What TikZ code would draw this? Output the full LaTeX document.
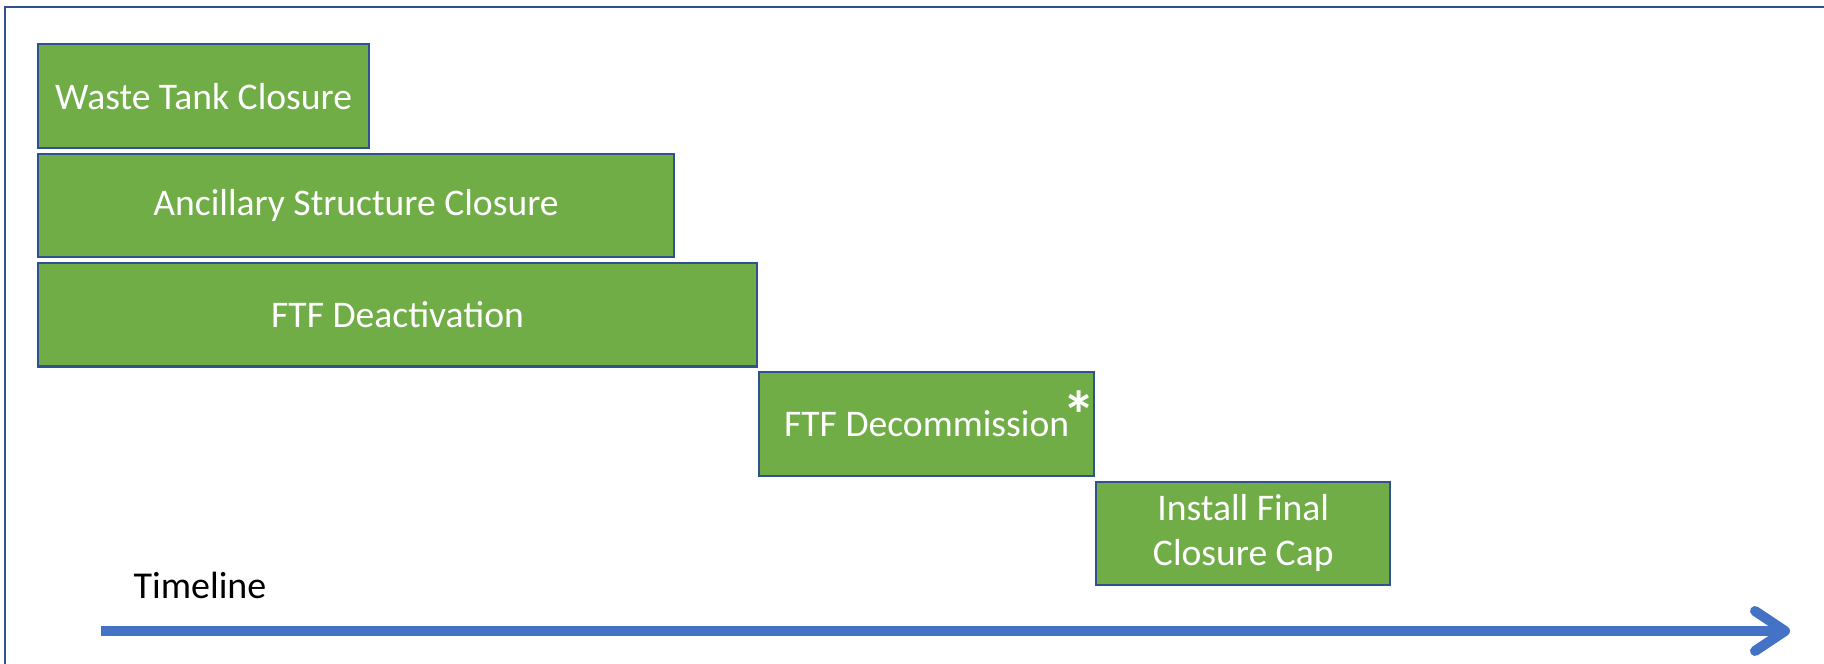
\documentclass[tikz,border=0pt]{standalone}
\usepackage{fontspec}
\setmainfont{Carlito}
\usepackage{tikz}
\usetikzlibrary{positioning,arrows.meta}
\definecolor{phasegreen}{HTML}{70AD47}
\definecolor{phaseedge}{HTML}{2F528F}
\definecolor{timeblue}{HTML}{4472C4}
\tikzstyle{phase}=
[
	rectangle
	,minimum height=1.035cm
	,align=center
	,draw=phaseedge
	,line width=0.6pt
	,fill=phasegreen
	,text=white
	,inner sep=0pt
	,font=\fontsize{10.7}{12.8}\selectfont
]
\tikzstyle{plain}=
[
	inner sep=0pt
	,text=black
	,font=\fontsize{10.8}{12.8}\selectfont
]
\tikzstyle{timeline} = [line width=2.85pt,draw=timeblue,-{Straight Barb[length=3mm,width=4mm,round]}]
\tikzstyle{frame} = [line width=0.4pt,draw=phaseedge]

\begin{document}
\begin{tikzpicture}
\useasboundingbox (0,0) rectangle (18.24,-6.64);
\draw[frame](0.05,-6.64)--(0.05,-0.07)--(18.24,-0.07);

\node(wtc)[phase,minimum width=3.31cm,anchor=north west] at (0.37,-0.433) {Waste Tank Closure};
\node(asc)[phase,minimum width=6.36cm,below=0.037cm of wtc.south west,anchor=north west]{Ancillary Structure Closure};
\node(ftfa)[phase,minimum width=7.19cm,below=0.037cm of asc.south west,anchor=north west]{FTF Deactivation};
\node(ftfd)[phase,minimum width=3.35cm,below=0.037cm of ftfa.south east,anchor=north west]{FTF Decommission\rlap{\smash{\kern-1.8pt\raisebox{-0.6pt}{\fontsize{19}{19}\selectfont\bfseries *}}}};
\node(ifc)[phase,minimum width=2.94cm,below=0.037cm of ftfd.south east,anchor=north west]{Install Final\\Closure Cap};

\coordinate(tstart) at (1.01,-6.31);
\coordinate(tend) at (17.9,-6.31);
\node(tl)[plain,anchor=base west] at (1.33,-5.98) {Timeline};

\draw[timeline](tstart)--(tend);

\end{tikzpicture}
\end{document}
